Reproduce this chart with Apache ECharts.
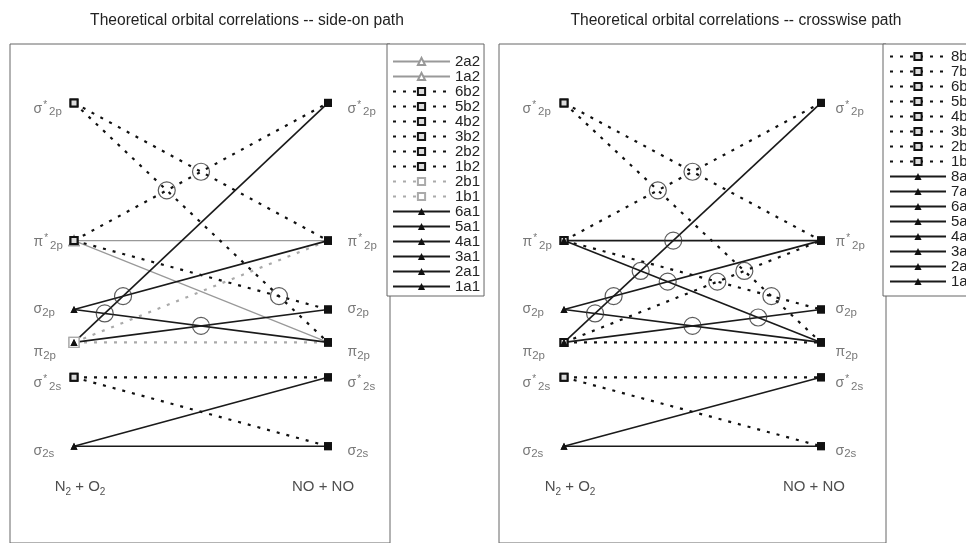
<!DOCTYPE html>
<html><head><meta charset="utf-8">
<script src="https://cdn.jsdelivr.net/npm/echarts@6/dist/echarts.min.js"></script>
<style>html,body{margin:0;padding:0;background:#fff}#c{width:966px;height:543px}</style>
</head><body><div id="c"></div><script>
// Orbital levels (index: 0 σ2s, 1 σ*2s, 2 π2p, 3 σ2p, 4 π*2p, 5 σ*2p)
const levelLabels = ['{b|σ}{sub|2s}', '{b|σ}{sup|*}{sub|2s}', '{b|π}{sub|2p}', '{b|σ}{sub|2p}', '{b|π}{sup|*}{sub|2p}', '{b|σ}{sup|*}{sub|2p}'];
const levelEnergy = [0, 6.9, 10.4, 13.7, 20.6, 34.4];
const endLabels = ['{t|N}{s|2}{t| + O}{s|2}', '{t|NO + NO}'];

// side-on path: correlation lines from N2+O2 level -> NO+NO level
const sideOnNames = ['2a2','1a2','6b2','5b2','4b2','3b2','2b2','1b2','2b1','1b1','6a1','5a1','4a1','3a1','2a1','1a1'];
const sideOnFrom  = [4, 4, 5, 5, 4, 4, 1, 1, 2, 2, 2, 3, 2, 3, 0, 0];
const sideOnTo    = [2, 4, 2, 4, 5, 3, 0, 1, 4, 2, 5, 4, 3, 2, 1, 0];

// crosswise path
const crossNames = ['8b','7b','6b','5b','4b','3b','2b','1b','8a','7a','6a','5a','4a','3a','2a','1a'];
const crossFrom  = [5, 5, 4, 2, 4, 2, 1, 1, 2, 4, 4, 3, 2, 3, 0, 0];
const crossTo    = [2, 4, 5, 4, 3, 2, 0, 1, 5, 4, 2, 4, 3, 2, 1, 0];

const FONT = 'Liberation Sans, Arial, sans-serif';
const DOT = [3, 7];
const groupStyle = {
  a1: {symbol:'triangle', size:7, item:{color:'#111'}, line:{color:'#1a1a1a', width:1.6, type:'solid'}, z:5},
  a:  {symbol:'triangle', size:7, item:{color:'#111'}, line:{color:'#1a1a1a', width:1.6, type:'solid'}, z:5},
  b2: {symbol:'rect', size:7, item:{color:'#ddd', borderColor:'#111', borderWidth:2}, line:{color:'#111', width:2.2, type:DOT}, z:4},
  b:  {symbol:'rect', size:7, item:{color:'#ddd', borderColor:'#111', borderWidth:2}, line:{color:'#111', width:2.2, type:DOT}, z:4},
  b1: {symbol:'rect', size:10, item:{color:'#fff', borderColor:'#aaa', borderWidth:1.3}, line:{color:'#aaa', width:2.2, type:DOT}, z:3},
  a2: {symbol:'triangle', size:10, item:{color:'#fff', borderColor:'#999', borderWidth:1.3}, line:{color:'#999', width:1.2, type:'solid'}, z:3}
};
const labelNudge = [5, 6, 10, 0, 2, 6];

function grp(n){ return n.replace(/^\d+/, ''); }

function panelSeries(idx, names, from, to, dL, dR, endOff) {
  const out = [];
  const order = names.map((n,i)=>i).sort((a,b)=>groupStyle[grp(names[a])].z - groupStyle[grp(names[b])].z);
  order.forEach(i => {
    const st = groupStyle[grp(names[i])];
    out.push({
      name: names[i], type:'line', xAxisIndex:idx, yAxisIndex:idx, silent:true,
      symbol: st.symbol, symbolSize: st.size, itemStyle: st.item, lineStyle: st.line,
      data: [[0, levelEnergy[from[i]]],
             {value:[1, levelEnergy[to[i]]], symbol:'rect', symbolSize:8, itemStyle:{color:'#111', borderColor:'#111', borderWidth:0}}]
    });
  });
  // avoided-crossing circles where same-symmetry lines cross
  const pts = [];
  for (let i=0;i<names.length;i++) for (let j=i+1;j<names.length;j++) {
    if (grp(names[i]) !== grp(names[j])) continue;
    const a0=levelEnergy[from[i]], a1=levelEnergy[to[i]], b0=levelEnergy[from[j]], b1=levelEnergy[to[j]];
    const den=(a1-a0)-(b1-b0);
    if (Math.abs(den)<1e-9) continue;
    const t=(b0-a0)/den;
    if (t>0.02 && t<0.98) pts.push([t, a0+(a1-a0)*t]);
  }
  out.push({type:'scatter', xAxisIndex:idx, yAxisIndex:idx, silent:true, z:6,
    symbol:'circle', symbolSize:17,
    itemStyle:{color:'rgba(0,0,0,0)', borderColor:'#333', borderWidth:1.2},
    data: pts});
  const rich = {
    b:{fontSize:14, fontFamily:FONT, color:'#555', lineHeight:18},
    sup:{fontSize:10, fontFamily:FONT, color:'#555', lineHeight:8, verticalAlign:'top', padding:[0,2,0,1]},
    sub:{fontSize:11.5, fontFamily:FONT, color:'#555', lineHeight:8, verticalAlign:'bottom'}
  };
  [0,1].forEach(side => {
    out.push({type:'scatter', xAxisIndex:idx, yAxisIndex:idx, silent:true, z:7,
      symbolSize:1, itemStyle:{color:'rgba(0,0,0,0)'},
      data: levelEnergy.map((e,k)=>({value:[side,e], label:{offset:[0,labelNudge[k]]}})),
      label:{show:true, position: side===0?'left':'right', align:'left', verticalAlign:'middle',
        distance: side===0?dL:dR, formatter: p => levelLabels[p.dataIndex], rich}
    });
  });
  out.push({type:'scatter', xAxisIndex:idx, yAxisIndex:idx, silent:true, z:7,
    symbolSize:1, itemStyle:{color:'rgba(0,0,0,0)'},
    data: [{value:[0,-4.1], label:{offset:[endOff[0],0]}}, {value:[1,-4.1], label:{offset:[endOff[1],0]}}],
    label:{show:true, position:'inside', formatter: p => endLabels[p.dataIndex],
      rich:{t:{fontSize:15, fontFamily:FONT, color:'#222', lineHeight:20},
            s:{fontSize:10, fontFamily:FONT, color:'#222', lineHeight:10, verticalAlign:'bottom'}}}
  });
  return out;
}

const chart = echarts.init(document.getElementById('c'), null, {renderer:'canvas'});
const legendBase = {orient:'vertical', itemHeight:9, itemGap:0, selectedMode:false,
  borderColor:'#666', borderWidth:1, backgroundColor:'#fff', borderRadius:0,
  textStyle:{fontSize:15, fontFamily:FONT, color:'#222'}};
chart.setOption({
  animation:false,
  backgroundColor:'#fff',
  title:[
    {text:'Theoretical orbital correlations -- side-on path', left:242, top:8, textAlign:'center',
     textStyle:{fontSize:15.6, fontWeight:'normal', fontFamily:FONT, color:'#222'}},
    {text:'Theoretical orbital correlations -- crosswise path', left:731, top:8, textAlign:'center',
     textStyle:{fontSize:15.6, fontWeight:'normal', fontFamily:FONT, color:'#222'}}
  ],
  grid:[
    {left:10, top:44, width:380, height:500, show:true, borderColor:'#666', borderWidth:1, backgroundColor:'#fff'},
    {left:499, top:44, width:387, height:500, show:true, borderColor:'#666', borderWidth:1, backgroundColor:'#fff'}
  ],
  xAxis:[
    {type:'value', gridIndex:0, min:-0.252, max:1.244, show:false},
    {type:'value', gridIndex:1, min:-0.253, max:1.253, show:false}
  ],
  yAxis:[
    {type:'value', gridIndex:0, min:-9.7, max:40.3, show:false},
    {type:'value', gridIndex:1, min:-9.7, max:40.3, show:false}
  ],
  legend:[
    Object.assign({}, legendBase, {data:sideOnNames, left:387, top:44, padding:[10,4,2,5], itemWidth:57}),
    Object.assign({}, legendBase, {data:crossNames, left:883, top:44, padding:[5,4,7,6], itemWidth:56})
  ],
  series: [].concat(
    panelSeries(0, sideOnNames, sideOnFrom, sideOnTo, 40, 19, [6,-5]),
    panelSeries(1, crossNames, crossFrom, crossTo, 41, 14, [6,-7])
  )
});
</script></body></html>
